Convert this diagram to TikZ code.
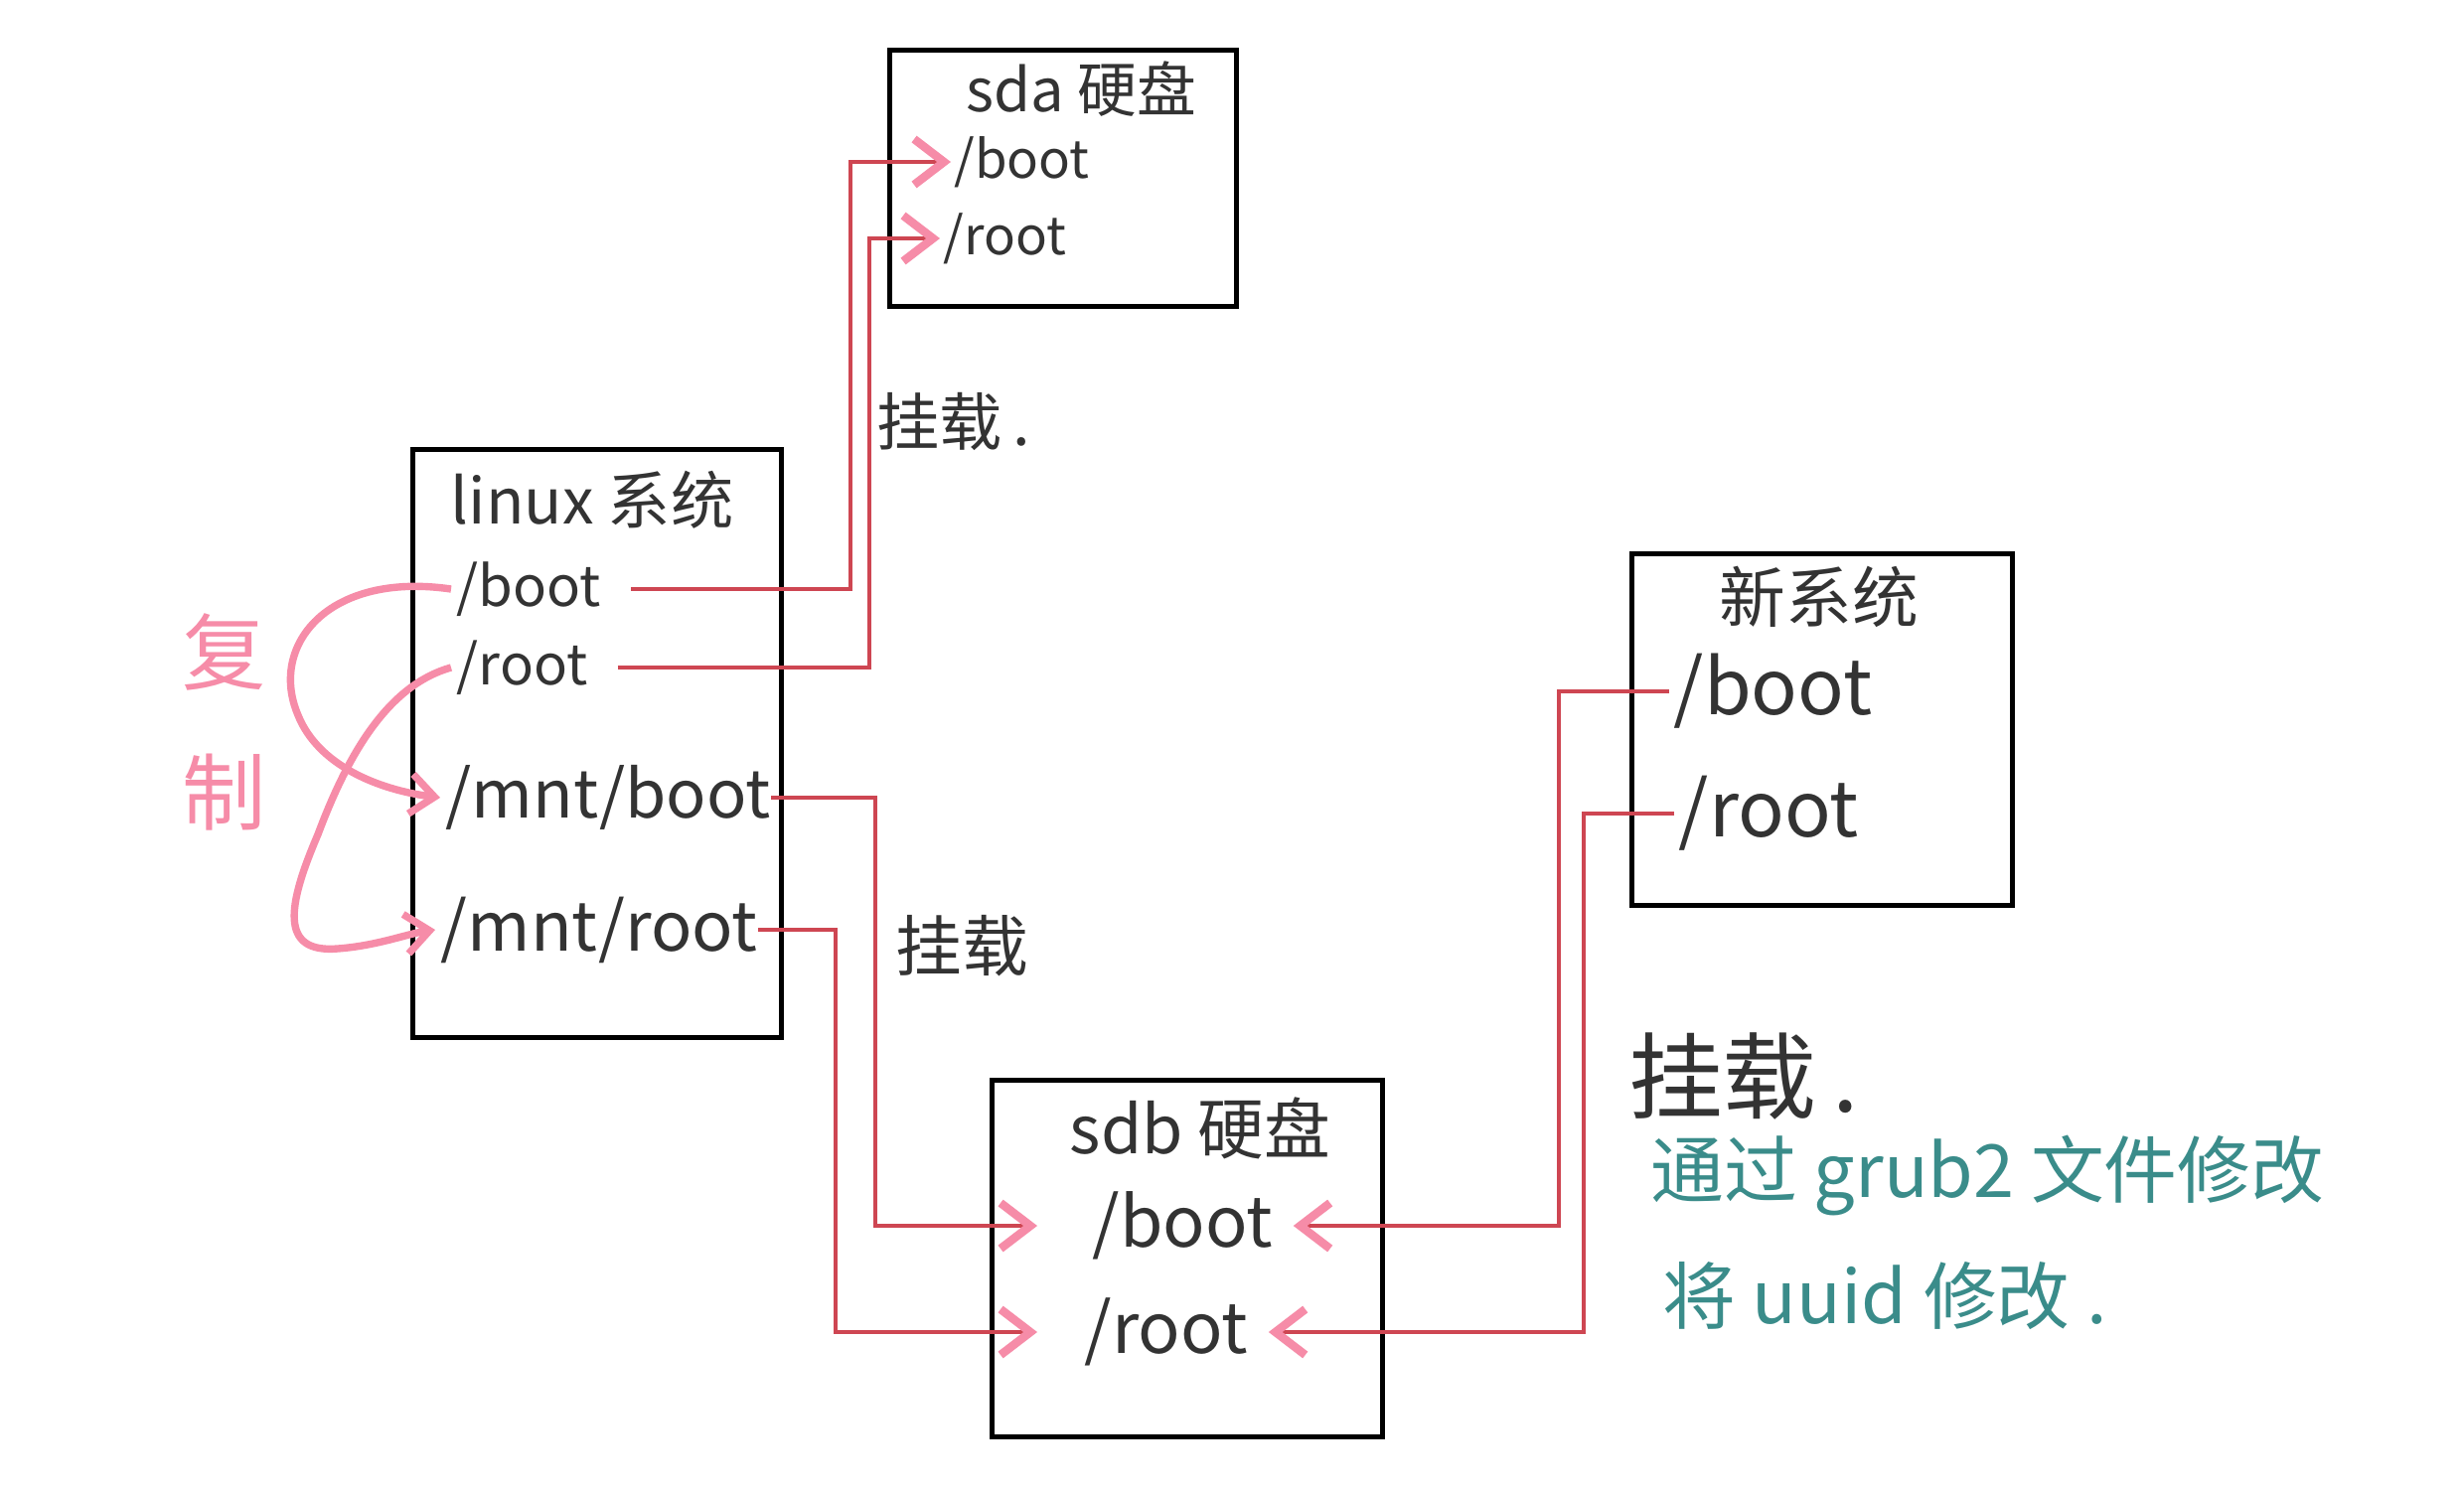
\documentclass[tikz,border=0pt]{standalone}
\usepackage{fontspec}
\setmainfont{Noto Sans CJK SC}
\usetikzlibrary{arrows.meta}
\definecolor{ink}{RGB}{51,51,51}
\definecolor{redl}{RGB}{206,70,82}
\definecolor{pinkc}{RGB}{246,140,168}
\definecolor{tealc}{RGB}{58,140,138}
\begin{document}
\begin{tikzpicture}[x=0.1mm,y=-0.1mm,
  box/.style={draw=black,line width=1.5pt,inner sep=0pt,anchor=north west},
  lbl/.style={text=ink,inner sep=0pt,anchor=west},
  ttl/.style={text=ink,inner sep=0pt},
  conn/.style={draw=redl,line width=0.9pt},
  tipin/.style={-{Straight Barb[color=pinkc,length=3mm,width=4.6mm,line width=2.4pt]}},
  copyarr/.style={draw=pinkc,line width=2.1pt,-{Straight Barb[length=2.4mm,width=4mm,line width=2.1pt]}},
]
\useasboundingbox[fill=white] (0,0) rectangle (2480,1499);

% boxes
\node[box,minimum width=34.9mm,minimum height=25.8mm] (sda) at (893,48) {};
\node[box,minimum width=37.1mm,minimum height=59.2mm] (linux) at (413,450) {};
\node[box,minimum width=38.3mm,minimum height=35.4mm] (newsys) at (1640,555) {};
\node[box,minimum width=39.3mm,minimum height=35.9mm] (sdb) at (996,1085) {};

% titles
\node[ttl,font=\fontsize{17}{20}\selectfont] (sdat) at (1088,90) {sda 硬盘};
\node[ttl,font=\fontsize{18}{21}\selectfont] (linuxt) at (596,503) {linux 系统};
\node[ttl,font=\fontsize{19}{22}\selectfont] (newt) at (1831,601) {新系统};
\node[ttl,font=\fontsize{19}{22}\selectfont] (sdbt) at (1208,1136) {sdb 硬盘};

% entries
\node[lbl,font=\fontsize{15}{18}\selectfont] (sdaboot) at (960,163) {/boot};
\node[lbl,font=\fontsize{15}{18}\selectfont] (sdaroot) at (949,240) {/root};
\node[lbl,font=\fontsize{16}{19}\selectfont] (lboot) at (459,593) {/boot};
\node[lbl,font=\fontsize{16}{19}\selectfont] (lroot) at (459,672) {/root};
\node[lbl,font=\fontsize{19}{23}\selectfont] (mntboot) at (448,803) {/mnt/boot};
\node[lbl,font=\fontsize{19.5}{23}\selectfont] (mntroot) at (443,936) {/mnt/root};
\node[lbl,font=\fontsize{22}{26}\selectfont] (newboot) at (1684,696) {/boot};
\node[lbl,font=\fontsize{22}{26}\selectfont] (newroot) at (1689,819) {/root};
\node[lbl,font=\fontsize{20}{24}\selectfont] (sdbboot) at (1099,1234) {/boot};
\node[lbl,font=\fontsize{20}{24}\selectfont] (sdbroot) at (1091,1341) {/root};

% annotations
\node[ttl,font=\fontsize{18}{21}\selectfont] (mount1) at (960,424) {挂载\,.};
\node[ttl,font=\fontsize{19}{22}\selectfont] (mount2) at (968,952) {挂载};
\node[ttl,font=\fontsize{27}{30}\selectfont] (mount3) at (1755,1083) {挂载\,.};
\node[text=pinkc,inner sep=0pt,align=center,font=\fontsize{24}{40}\selectfont] (copy) at (226,727) {复\\制};
\node[text=tealc,inner sep=0pt,anchor=west,align=left,font=\fontsize{21}{36}\selectfont] (note) at (1661,1241) {通过 grub2 文件修改\\\hspace{1.2mm}将 uuid 修改 .};

% mount connectors
\draw[conn,tipin] ([xshift=3mm]lboot.east) -| (856,400) |- ([xshift=-0.3mm]sdaboot.west);
\draw[conn,tipin] ([xshift=3mm]lroot.east) -| (875,400) |- ([xshift=-0.3mm]sdaroot.west);
\draw[conn,tipin] (mntboot.east) -| (881,1000) |- ([xshift=-5.5mm]sdbboot.west);
\draw[conn,tipin] (mntroot.east) -| (841,1100) |- ([xshift=-4.7mm]sdbroot.west);
\draw[conn,tipin] ([xshift=-0.4mm]newboot.west) -| (1569,1000) |- ([xshift=2mm]sdbboot.east);
\draw[conn,tipin] ([xshift=-0.4mm]newroot.west) -| (1594,1100) |- ([xshift=2mm]sdbroot.east);

% copy arrows
\draw[copyarr] ([xshift=-0.5mm]lboot.west) .. controls (330,575) and (270,650) .. (300,720) .. controls (320,770) and (380,795) .. ([xshift=-0.5mm]mntboot.west);
\draw[copyarr] ([xshift=-0.5mm]lroot.west) .. controls (390,690) and (350,760) .. (320,840) .. controls (290,910) and (280,960) .. (340,955) .. controls (380,952) and (410,940) .. ([xshift=-0.5mm]mntroot.west);
\end{tikzpicture}
\end{document}
